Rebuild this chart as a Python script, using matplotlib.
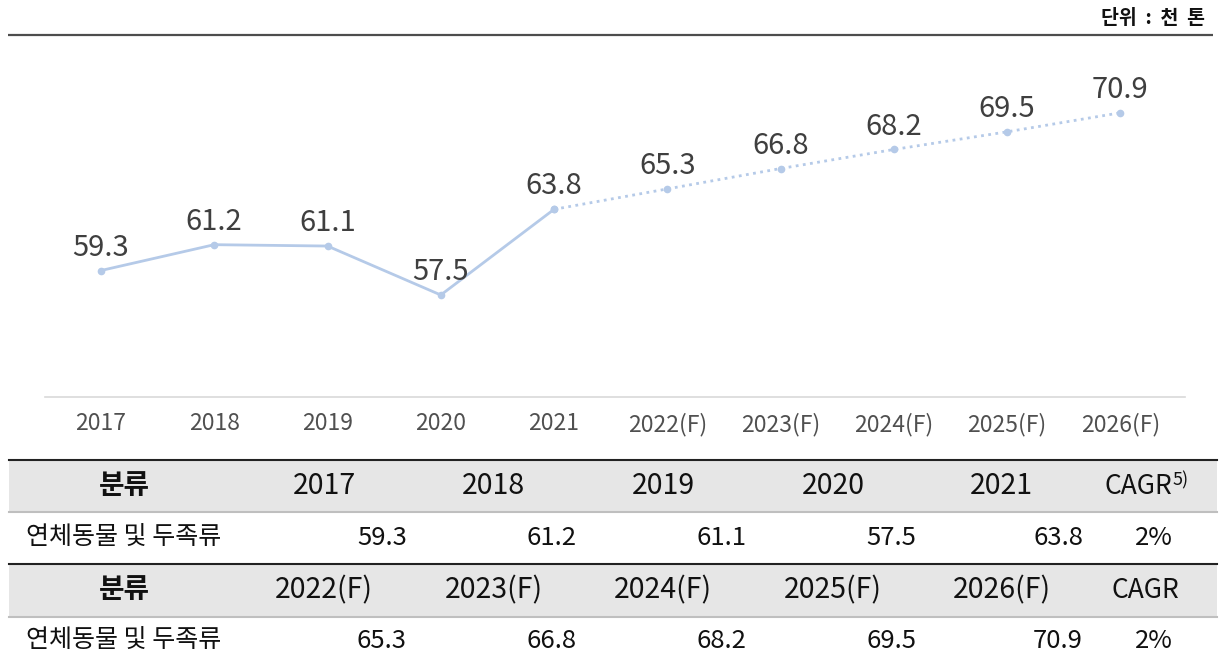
import matplotlib
matplotlib.use("Agg")
import matplotlib.pyplot as plt

plt.rcParams['font.family'] = ['Noto Sans CJK KR', 'DejaVu Sans']

# ---- data ----
years = ['2017', '2018', '2019', '2020', '2021',
         '2022(F)', '2023(F)', '2024(F)', '2025(F)', '2026(F)']
values = [59.3, 61.2, 61.1, 57.5, 63.8, 65.3, 66.8, 68.2, 69.5, 70.9]
n_actual = 5
category = '연체동물 및 두족류'
header_label = '분류'
cagr_values = ['2%', '2%']
unit_text = '단위  :  천  톤'

W, H = 1219, 665
fig = plt.figure(figsize=(W / 100, H / 100), dpi=100)

# ---- overlay axes in pixel coordinates ----
ov = fig.add_axes([0, 0, 1, 1])
ov.set_xlim(0, W)
ov.set_ylim(H, 0)
ov.axis('off')

# top rule and unit
ov.plot([8, 1213], [35, 35], color='#4d4d4d', lw=1.6, solid_capstyle='butt')
ov.text(1205, 18, unit_text, ha='right', va='center', fontsize=14,
        fontweight='bold', color='#111111')

# ---- line chart ----
line_color = '#b5cae8'
ax = fig.add_axes([45 / W, (H - 397) / H, 1140 / W, 340 / H])
x = list(range(len(values)))
ax.plot(x[:n_actual], values[:n_actual], color=line_color, lw=2.0,
        marker='o', ms=4.5, zorder=3)
ax.plot(x[n_actual - 1:], values[n_actual - 1:], color=line_color, lw=2.0,
        linestyle=(0, (1, 1.6)), marker='o', ms=4.5, zorder=3)
for xi, v in zip(x, values):
    ax.annotate(f'{v:.1f}', (xi, v), xytext=(0, 16.5), textcoords='offset points',
                ha='center', va='center', fontsize=21, color='#3f3f3f')
ax.set_xlim(-0.494, 9.57)
ax.set_ylim(50, 75)
ax.set_xticks(x)
ax.set_xticklabels(years, fontsize=16.5, color='#505050')
ax.set_yticks([])
for s in ['top', 'right', 'left']:
    ax.spines[s].set_visible(False)
ax.spines['bottom'].set_color('#d9d9d9')
ax.spines['bottom'].set_linewidth(1.2)
ax.tick_params(axis='x', length=0, pad=11)

# ---- table ----
col_edges = [9, 239, 409, 578, 748, 918, 1085, 1217]
rows = [(460, 512), (512, 564), (564, 617), (617, 665)]
header_bg = '#e6e6e6'
for (t, b) in [rows[0], rows[2]]:
    ov.add_patch(plt.Rectangle((col_edges[0], t), col_edges[-1] - col_edges[0], b - t,
                               facecolor=header_bg, edgecolor='none', zorder=0))
    ov.plot([col_edges[0], col_edges[-1]], [b, b], color='#bfbfbf', lw=1.5, zorder=1)
for y in [460, 564]:
    ov.plot([col_edges[0], col_edges[-1]], [y, y], color='#222222', lw=1.5, zorder=2)

groups = [(years[:n_actual], values[:n_actual], cagr_values[0], True),
          (years[n_actual:], values[n_actual:], cagr_values[1], False)]
for gi, (yrs, vals, cg, sup) in enumerate(groups):
    ht, hb = rows[2 * gi]
    dt, db = rows[2 * gi + 1]
    hy = (ht + hb) / 2
    dy = (dt + db) / 2
    c0 = (col_edges[0] + col_edges[1]) / 2
    ov.text(c0, hy, header_label, ha='center', va='center', fontsize=20,
            fontweight='bold', color='#111111')
    ov.text(c0, dy, category, ha='center', va='center', fontsize=18,
            color='#111111')
    for j, (yr, v) in enumerate(zip(yrs, vals)):
        cx = (col_edges[j + 1] + col_edges[j + 2]) / 2
        ov.text(cx, hy, yr, ha='center', va='center', fontsize=20.5,
                fontweight='medium', color='#111111')
        ov.text(col_edges[j + 2] - 2, dy, f'{v:.1f}', ha='right', va='center',
                fontsize=18.5, color='#111111')
    cx = (col_edges[-2] + col_edges[-1]) / 2
    if sup:
        ov.text(cx + 21, hy, 'CAGR', ha='right', va='center', fontsize=19,
                fontweight='medium', color='#111111')
        ov.text(cx + 22, hy - 6, '5)', ha='left', va='center', fontsize=13,
                color='#111111')
    else:
        ov.text(cx - 6, hy, 'CAGR', ha='center', va='center', fontsize=19,
                fontweight='medium', color='#111111')
    ov.text(cx + 3, dy, cg, ha='center', va='center', fontsize=18.5, color='#111111')

fig.savefig('out.png', dpi=100)
